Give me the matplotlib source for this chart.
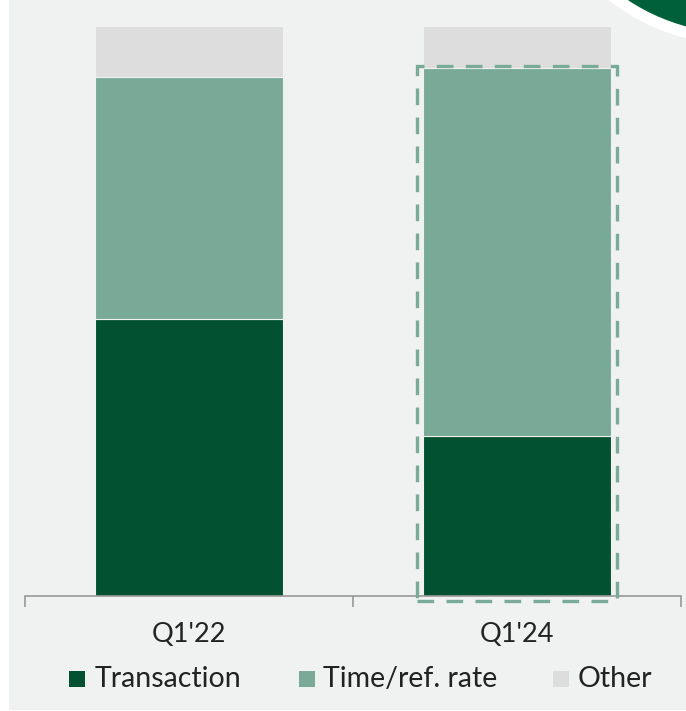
import matplotlib
matplotlib.use("Agg")
import matplotlib.pyplot as plt
from matplotlib.patches import Rectangle, Circle

# Revenue mix by pricing model (% of total)
categories = ["Q1'22", "Q1'24"]
series_names = ["Transaction", "Time/ref. rate", "Other"]
transaction = [48.6, 28.0]
time_ref_rate = [42.4, 64.6]
other = [9.0, 7.4]

colors = ["#025232", "#78aa97", "#dcdddc"]
panel_bg = "#eff2f1"
text_color = "#222222"
font = ["Lato", "DejaVu Sans"]

W, H = 686, 711
fig = plt.figure(figsize=(W / 100, H / 100), dpi=100)
fig.patch.set_facecolor("white")

# Background layer in pixel coordinates (panel + corner badge)
bg = fig.add_axes([0, 0, 1, 1], zorder=0)
bg.set_xlim(0, W)
bg.set_ylim(H, 0)
bg.axis("off")
bg.add_patch(Rectangle((9, 0), W - 9, 710, facecolor=panel_bg, edgecolor="none"))
bg.add_patch(Circle((739, -168), 213, facecolor="white", edgecolor="none"))
bg.add_patch(Circle((739, -168), 201.5, facecolor="#00603a", edgecolor="none"))

# Main chart axes
ax_left, ax_right = 25, 681
ax_bottom, ax_top = 596, 26
ax = fig.add_axes([ax_left / W, (H - ax_bottom) / H,
                   (ax_right - ax_left) / W, (ax_bottom - ax_top) / H], zorder=1)
ax.set_facecolor("none")

x = list(range(len(categories)))
width = 0.573
stack = [transaction, time_ref_rate, other]
bottoms = [0.0] * len(categories)
for vals, col, name in zip(stack, colors, series_names):
    ax.bar(x, vals, width=width, bottom=bottoms, color=col,
           edgecolor=panel_bg, linewidth=0.8, label=name, zorder=2)
    bottoms = [b + v for b, v in zip(bottoms, vals)]

ax.set_xlim(-0.5, 1.5)
ax.set_ylim(0, 100)

# Dashed highlight around Q1'24 transaction + time/ref. rate
hi = 1
pad_x = 0.018
hi_top = transaction[hi] + time_ref_rate[hi]
ax.add_patch(Rectangle((hi - width / 2 - pad_x, -0.8),
                       width + 2 * pad_x, hi_top + 0.8 + 0.35,
                       fill=False, edgecolor="#7aab98", linewidth=2.4,
                       linestyle=(0, (5.0, 3.7)), clip_on=False, zorder=3))

for side in ["left", "right", "top"]:
    ax.spines[side].set_visible(False)
ax.spines["bottom"].set_color("#999999")
ax.spines["bottom"].set_linewidth(1.2)
ax.set_yticks([])

ax.set_xticks(x)
ax.set_xticklabels(categories, fontsize=19.5, color=text_color,
                   fontfamily=font, fontweight="normal")
ax.tick_params(axis="x", which="major", length=0, pad=19)
ax.set_xticks([-0.5, 0.5, 1.5], minor=True)
ax.tick_params(axis="x", which="minor", length=8, width=1.2, color="#999999")

# Legend row
leg_y = 687  # baseline in pixels
leg_items = [(69, 95), (299, 323), (553, 578)]
for (sx, tx), name, col in zip(leg_items, series_names, colors):
    bg.add_patch(Rectangle((sx, leg_y - 16), 16, 16, facecolor=col,
                           edgecolor="none", zorder=3))
    bg.text(tx, leg_y, name, fontsize=20.5, color=text_color, fontfamily=font,
            fontweight="normal", ha="left", va="baseline", zorder=3)

fig.savefig("out.png", dpi=100, facecolor=fig.get_facecolor())
